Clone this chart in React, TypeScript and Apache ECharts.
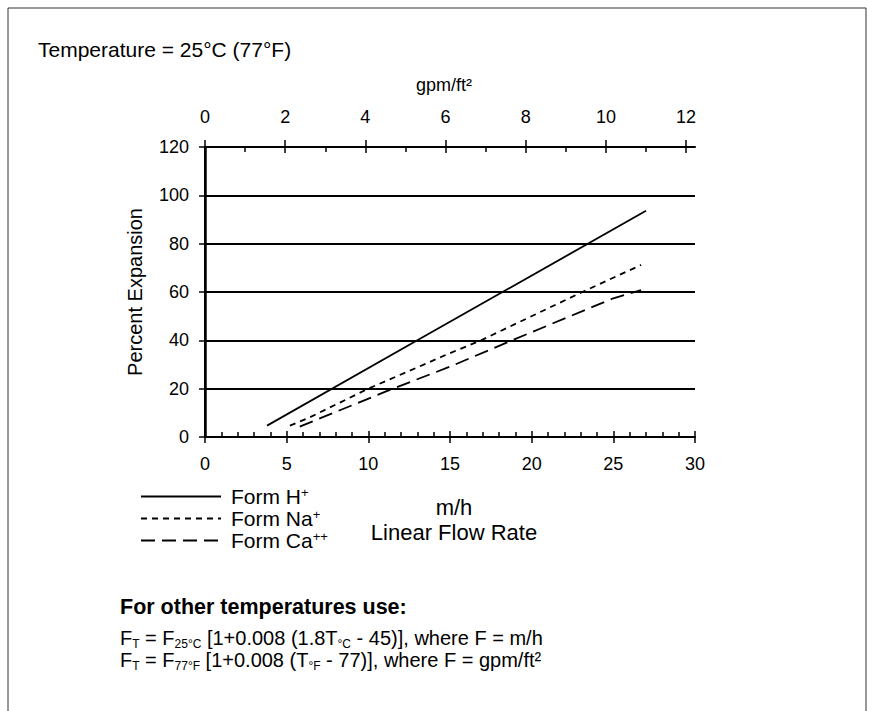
import React, { useEffect, useRef } from "react";
import * as echarts from "echarts";

// ---- data ----
// x = linear flow rate (m/h), y = percent expansion
const formH: [number, number][] = [[3.8, 4.7], [13.0, 40], [27.0, 93.6]];
const formNa: [number, number][] = [[5.2, 4.7], [6.4, 8.1], [10.0, 20], [15.0, 34.7], [16.9, 40], [23.1, 60], [26.7, 71.2]];
const formCa: [number, number][] = [[5.8, 4.3], [11.5, 20], [15.0, 29.1], [18.8, 40], [25.0, 57.4], [26.7, 60.8]];
const seriesNames = ["Form H+", "Form Na+", "Form Ca++"];
const legendLabels: Record<string, [string, string]> = {
  "Form H+": ["Form H", "+"],
  "Form Na+": ["Form Na", "+"],
  "Form Ca++": ["Form Ca", "++"],
};
const M_H_PER_GPM_FT2 = 2.4545; // conversion used for top axis
const X_MIN = 0, X_MAX = 30, X_INTERVAL = 5;
const TOP_TICKS = [0, 2, 4, 6, 8, 10, 12];
const TOP_MINOR_TICKS = [1, 3, 5, 7, 9, 11];
const Y_MIN = 0, Y_MAX = 120, Y_INTERVAL = 20;

const FONT = "'Liberation Sans', Arial, Helvetica, sans-serif";

export default function App() {
  const ref = useRef<HTMLDivElement>(null);
  useEffect(() => {
    document.body.style.margin = "0";
    const chart = echarts.init(ref.current!, null, { renderer: "svg" });
    const black = "#000";
    const tickLine = { color: black, width: 1.5 };
    const subRich = { fontSize: 12, fontFamily: FONT, fill: black, padding: [11, 0, 0, 0] };
    const topBase = { type: "value", position: "top", min: 0, max: X_MAX / M_H_PER_GPM_FT2, interval: 2 };
    const option: any = {
      animation: false,
      backgroundColor: "#fff",
      color: [black, black, black],
      textStyle: { fontFamily: FONT, color: black },
      grid: { left: 205, right: 179, top: 147, bottom: 274, containLabel: false },
      xAxis: [
        {
          type: "value", position: "bottom", min: X_MIN, max: X_MAX, interval: X_INTERVAL,
          axisLine: { show: true, lineStyle: { color: black, width: 2 } },
          axisTick: { show: true, inside: true, length: 6, lineStyle: tickLine },
          minorTick: { show: true, splitNumber: 5, length: 5, lineStyle: tickLine },
          axisLabel: { margin: 18, fontSize: 18, color: black, fontFamily: FONT },
          splitLine: { show: false },
          name: "{a|m/h}\n{a|Linear Flow Rate}", nameLocation: "middle", nameGap: 58,
          nameTextStyle: { fontSize: 22, color: black, fontFamily: FONT, padding: [0, 0, 0, 8], rich: { a: { fontSize: 22, lineHeight: 25, fontFamily: FONT } } },
        },
        {
          type: "value", position: "bottom", min: X_MIN, max: X_MAX, interval: X_INTERVAL,
          axisLine: { show: false },
          axisTick: { show: true, inside: false, length: 6, lineStyle: tickLine },
          axisLabel: { show: false }, splitLine: { show: false },
        },
        {
          ...topBase,
          axisLine: { show: true, lineStyle: { color: black, width: 2 } },
          axisTick: { show: true, inside: true, length: 6, lineStyle: tickLine, customValues: TOP_TICKS },
          axisLabel: { margin: 21, fontSize: 18, color: black, fontFamily: FONT, customValues: TOP_TICKS },
          splitLine: { show: false },
          name: "gpm/ft²", nameLocation: "middle", nameGap: 53,
          nameTextStyle: { fontSize: 18, color: black, fontFamily: FONT, padding: [0, 0, 0, -12] },
        },
        {
          ...topBase,
          axisLine: { show: false },
          axisTick: { show: true, inside: false, length: 7, lineStyle: tickLine, customValues: TOP_TICKS },
          axisLabel: { show: false }, splitLine: { show: false },
        },
        {
          ...topBase,
          axisLine: { show: false },
          axisTick: { show: true, inside: true, length: 5, lineStyle: tickLine, customValues: TOP_MINOR_TICKS },
          axisLabel: { show: false }, splitLine: { show: false },
        },
      ],
      yAxis: [
        {
          type: "value", position: "left", min: Y_MIN, max: Y_MAX, interval: Y_INTERVAL,
          axisLine: { show: true, lineStyle: { color: black, width: 2.5 } },
          axisTick: { show: true, inside: false, length: 6, lineStyle: tickLine },
          axisLabel: { margin: 16, fontSize: 18, color: black, fontFamily: FONT },
          splitLine: { show: true, lineStyle: { color: black, width: 2 } },
          name: "Percent Expansion", nameLocation: "middle", nameGap: 60,
          nameTextStyle: { fontSize: 20, color: black, fontFamily: FONT },
        },
        {
          type: "value", position: "right", min: Y_MIN, max: Y_MAX, interval: Y_INTERVAL,
          axisLine: { show: true, lineStyle: { color: black, width: 2 } },
          axisTick: { show: false }, axisLabel: { show: false }, splitLine: { show: false },
        },
      ],
      legend: {
        orient: "vertical", left: 135, top: 481, itemWidth: 80, itemHeight: 14, itemGap: 1,
        data: seriesNames,
        selectedMode: false,
        itemStyle: { opacity: 0 },
        formatter: (name: string) => {
          const [base, sup] = legendLabels[name];
          return `{b|${base}}{s|${sup}}`;
        },
        textStyle: {
          fontFamily: FONT, color: black, fontSize: 21, padding: [0, 0, 0, 5],
          rich: {
            b: { fontSize: 21, fontFamily: FONT, color: black, lineHeight: 22 },
            s: { fontSize: 13, fontFamily: FONT, color: black, lineHeight: 12, padding: [0, 0, 8, 0] },
          },
        },
      },
      series: [
        {
          name: seriesNames[0], type: "line", data: formH, showSymbol: false, symbol: "none",
          xAxisIndex: 0, yAxisIndex: 0, itemStyle: { color: black },
          lineStyle: { color: black, width: 1.8, type: "solid" },
        },
        {
          name: seriesNames[1], type: "line", data: formNa, showSymbol: false, symbol: "none",
          xAxisIndex: 0, yAxisIndex: 0, itemStyle: { color: black },
          lineStyle: { color: black, width: 1.8, type: [6, 5] },
        },
        {
          name: seriesNames[2], type: "line", data: formCa, showSymbol: false, symbol: "none",
          xAxisIndex: 0, yAxisIndex: 0, itemStyle: { color: black },
          lineStyle: { color: black, width: 1.8, type: [14, 7] },
        },
      ],
      graphic: [
        {
          type: "rect", silent: true, z: -1,
          shape: { x: 8, y: 8, width: 858, height: 760 },
          style: { fill: "none", stroke: "#333", lineWidth: 1 },
        },
        {
          type: "text", left: 38, top: 39,
          style: { text: "Temperature = 25°C (77°F)", fontSize: 21, fontFamily: FONT, fill: black },
        },
        {
          type: "text", left: 120, top: 596,
          style: { text: "For other temperatures use:", fontSize: 21.5, fontWeight: "bold", fontFamily: FONT, fill: black },
        },
        {
          type: "text", left: 120, top: 628,
          style: {
            text: "{n|F}{s|T}{n| = F}{s|25°C}{n| [1+0.008 (1.8T}{s|°C}{n| - 45)], where F = m/h}",
            fontFamily: FONT, fill: black,
            rich: { n: { fontSize: 20, fontFamily: FONT, fill: black, lineHeight: 22 }, s: subRich },
          },
        },
        {
          type: "text", left: 120, top: 650,
          style: {
            text: "{n|F}{s|T}{n| = F}{s|77°F}{n| [1+0.008 (T}{s|°F}{n| - 77)], where F = gpm/ft²}",
            fontFamily: FONT, fill: black,
            rich: { n: { fontSize: 20, fontFamily: FONT, fill: black, lineHeight: 22 }, s: subRich },
          },
        },
      ],
    };
    chart.setOption(option);
    return () => chart.dispose();
  }, []);
  return <div ref={ref} style={{ width: 874, height: 711 }} />;
}
